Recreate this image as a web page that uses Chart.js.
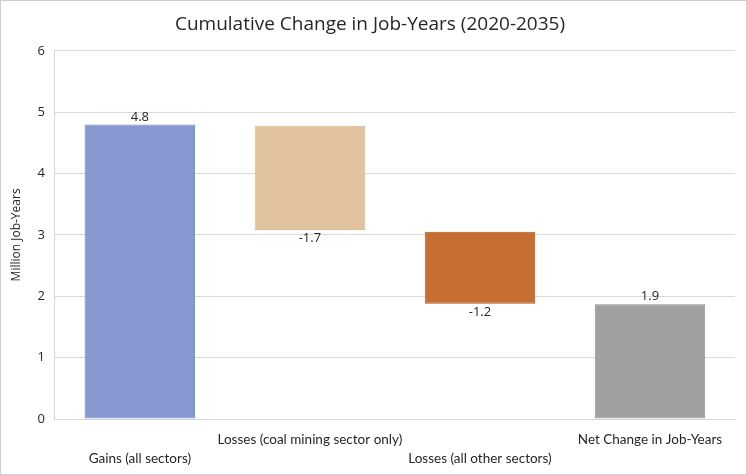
<!DOCTYPE html>
<html lang="en">
<head>
<meta charset="utf-8">
<title>Cumulative Change in Job-Years</title>
<script src="https://cdn.jsdelivr.net/npm/chart.js"></script>
<style>
    body { margin: 0; background: #fff; }
    .frame { width: 745px; height: 473px; border: 1px solid #cfcfcf; position: relative; }
    canvas { display: block; }
</style>
</head>
<body>
<div class="frame"><canvas id="waterfall" width="745" height="473"></canvas></div>
<script>
    // categories (staggered in two rows like the original)
    const categories = [
        ['', 'Gains (all sectors)'],
        ['Losses (coal mining sector only)', ''],
        ['', 'Losses (all other sectors)'],
        ['Net Change in Job-Years', '']
    ];
    const barStart = [0, 4.78, 3.05, 0];
    const barEnd = [4.80, 3.08, 1.88, 1.87];
    const valueLabels = ['4.8', '-1.7', '-1.2', '1.9'];
    const labelBelow = [false, true, true, false];
    const yTicks = [0, 1, 2, 3, 4, 5, 6];

    const fills = ['#8797cf', '#e3c29f', '#c46e33', '#a09fa1'];
    const borders = ['#6f83c6', '#e0b993', '#b8581c', '#8f8e90'];

    const floating = barStart.map((s, i) => [s, barEnd[i]]);

    const valueLabelPlugin = {
        id: 'valueLabels',
        afterDatasetsDraw(chart) {
            const c = chart.ctx;
            const meta = chart.getDatasetMeta(0);
            c.save();
            c.font = '13px "Open Sans", sans-serif';
            c.fillStyle = '#262626';
            c.textAlign = 'center';
            meta.data.forEach((bar, i) => {
                const top = Math.min(bar.y, bar.base);
                const bottom = Math.max(bar.y, bar.base);
                if (labelBelow[i]) {
                    c.textBaseline = 'top';
                    c.fillText(valueLabels[i], bar.x, bottom + 2);
                } else {
                    c.textBaseline = 'bottom';
                    c.fillText(valueLabels[i], bar.x, top - 1);
                }
            });
            c.restore();
        }
    };

    new Chart(document.getElementById('waterfall'), {
        type: 'bar',
        data: {
            labels: categories,
            datasets: [{
                data: floating,
                backgroundColor: fills,
                borderColor: borders,
                borderWidth: 1,
                borderSkipped: false,
                categoryPercentage: 1,
                barPercentage: 0.65
            }]
        },
        options: {
            responsive: false,
            animation: false,
            layout: { padding: { left: 4, right: 11, top: 4, bottom: 2 } },
            plugins: {
                legend: { display: false },
                tooltip: { enabled: false },
                title: {
                    display: true,
                    text: 'Cumulative Change in Job-Years (2020-2035)',
                    color: '#262626',
                    font: { family: '"Open Sans", sans-serif', size: 19, weight: 'normal' },
                    padding: { top: 8, bottom: 15 }
                }
            },
            scales: {
                y: {
                    min: 0,
                    max: 6,
                    afterBuildTicks: axis => { axis.ticks = yTicks.map(v => ({ value: v })); },
                    grid: { color: '#d9d9d9', drawTicks: false },
                    border: { color: '#d9d9d9' },
                    ticks: {
                        color: '#262626',
                        padding: 10,
                        font: { family: '"Open Sans", sans-serif', size: 13 }
                    },
                    title: {
                        display: true,
                        text: 'Million Job-Years',
                        color: '#262626',
                        font: { family: '"Open Sans", sans-serif', size: 12 }
                    }
                },
                x: {
                    grid: { display: false },
                    border: { color: '#d9d9d9' },
                    afterFit: axis => { axis.height = 53; },
                    ticks: {
                        color: '#262626',
                        maxRotation: 0,
                        autoSkip: false,
                        padding: 3,
                        font: { family: 'Lato, sans-serif', size: 13.5, lineHeight: 1.42 }
                    }
                }
            }
        },
        plugins: [valueLabelPlugin]
    });
</script>
</body>
</html>
